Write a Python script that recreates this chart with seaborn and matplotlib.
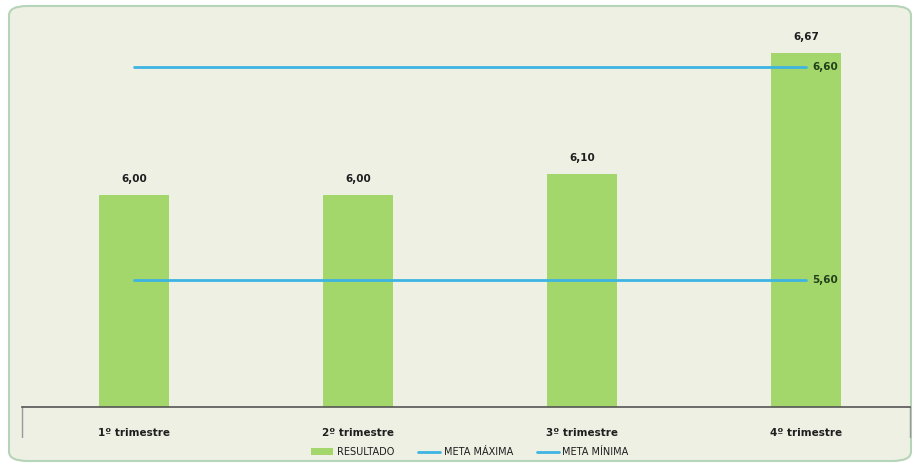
import numpy as np
import pandas as pd
import matplotlib
matplotlib.use("Agg")
import matplotlib.pyplot as plt
import seaborn as sns
from matplotlib.patches import FancyBboxPatch, Patch
from matplotlib.lines import Line2D

# data
trimestres = ["1º trimestre", "2º trimestre", "3º trimestre", "4º trimestre"]
resultado = [6.00, 6.00, 6.10, 6.67]
meta_maxima = 6.60
meta_minima = 5.60

bar_color = "#a3d66b"
line_color = "#3db4e2"
bg_color = "#eef0e4"
text_dark = "#1e1e1e"

sns.set_theme(style="white")
plt.rcParams['font.family'] = ['Liberation Sans Narrow', 'DejaVu Sans']

W, H = 919, 471
fig = plt.figure(figsize=(W / 100, H / 100), dpi=100)
fig.patch.set_facecolor("white")

# rounded frame behind everything
frame = FancyBboxPatch((9 / W, 10 / H), (W - 17) / W, (H - 16) / H,
                       boxstyle="round,pad=0,rounding_size=0.02",
                       transform=fig.transFigure, facecolor=bg_color,
                       edgecolor="#b5d4b8", linewidth=1.5, zorder=-5)
fig.patches.append(frame)

ax = fig.add_axes([22 / W, 1 - 407 / H, (910 - 22) / W, (407 - 25) / H])
ax.set_facecolor("none")
ax.set_zorder(1)

df = pd.DataFrame({"trimestre": trimestres, "resultado": resultado})
sns.barplot(data=df, x="trimestre", y="resultado", color=bar_color,
            saturation=1, width=0.31, linewidth=0, ax=ax, zorder=2)

ax.set_xlim(-0.5, 3.465)
ax.set_ylim(5.0, 6.8)

# meta lines from first to last category
xs = np.arange(len(trimestres))
ax.plot([xs[0], xs[-1]], [meta_maxima] * 2, color=line_color, lw=2, zorder=3)
ax.plot([xs[0], xs[-1]], [meta_minima] * 2, color=line_color, lw=2, zorder=3)
ax.text(xs[-1] + 0.03, meta_maxima, f"{meta_maxima:.2f}".replace(".", ","),
        va="center", ha="left", fontsize=7.5, fontweight="bold", color="#23401c", zorder=4)
ax.text(xs[-1] + 0.03, meta_minima, f"{meta_minima:.2f}".replace(".", ","),
        va="center", ha="left", fontsize=7.5, fontweight="bold", color="#23401c", zorder=4)

# value labels on the bars
for x, v in zip(xs, resultado):
    ax.text(x, v + 0.05, f"{v:.2f}".replace(".", ","), ha="center", va="bottom",
            fontsize=7.5, fontweight="bold", color=text_dark)

for s in ["top", "left", "right"]:
    ax.spines[s].set_visible(False)
ax.spines["bottom"].set_color("#555555")
ax.spines["bottom"].set_linewidth(1.2)
ax.set_yticks([])
ax.set_xlabel("")
ax.set_ylabel("")
ax.tick_params(axis="x", length=0, pad=15, labelsize=7.5, labelcolor=text_dark)
for lbl in ax.get_xticklabels():
    lbl.set_fontweight("bold")

# side lines of the category box
box_depth = (437 - 407) / (407 - 25)
for xa in (0, 1):
    ax.plot([xa, xa], [0, -box_depth], transform=ax.transAxes, color="#999999",
            lw=1, clip_on=False)

handles = [Patch(facecolor=bar_color, edgecolor="none", label="RESULTADO"),
           Line2D([0], [0], color=line_color, lw=2, label="META MÁXIMA"),
           Line2D([0], [0], color=line_color, lw=2, label="META MÍNIMA")]
leg = fig.legend(handles=handles, loc="center", ncol=3, frameon=False,
                 bbox_to_anchor=(470 / W, 1 - 452 / H), fontsize=7,
                 handlelength=2.2, handleheight=0.6, columnspacing=2.5, handletextpad=0.4)
for t in leg.get_texts():
    t.set_color(text_dark)

fig.savefig("out.png", dpi=100, facecolor=fig.get_facecolor())
